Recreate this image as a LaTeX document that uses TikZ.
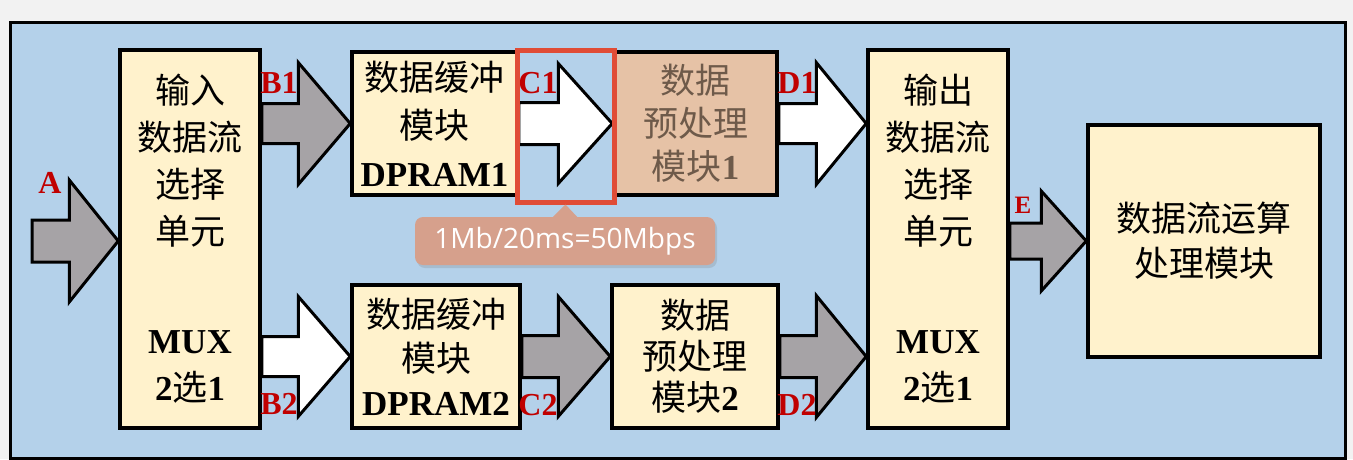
\documentclass[tikz,border=0pt]{standalone}
\usepackage{fontspec}
\setmainfont{Liberation Serif}
\newfontfamily\cjk{Noto Sans CJK SC}
\newfontfamily\notefont{Open Sans}
\usetikzlibrary{calc,shadows}

\definecolor{panelblue}{RGB}{180,209,234}
\definecolor{cream}{RGB}{255,242,204}
\definecolor{tanbox}{RGB}{230,194,166}
\definecolor{tantext}{RGB}{110,90,74}
\definecolor{arrowgray}{RGB}{166,163,166}
\definecolor{labelred}{RGB}{192,0,0}
\definecolor{notefill}{RGB}{214,160,140}
\definecolor{hlred}{RGB}{224,76,54}

\newcommand\zh[1]{{\cjk #1}}
% block arrow: fill, start, tip, head length, half shaft, half head
\newcommand\flowarrow[6]{%
  \filldraw[flowline, fill=#1] let \p1=(#2), \p2=(#3) in
    (\x1,\y2+#5) -- (\x2-#4,\y2+#5) -- (\x2-#4,\y2+#6) -- (\x2,\y2)
    -- (\x2-#4,\y2-#6) -- (\x2-#4,\y2-#5) -- (\x1,\y2-#5) -- cycle;}

\tikzset{
  block/.style={draw, line width=3.5pt, fill=cream, align=center, inner sep=0pt},
  blockfont/.style={font={\fontsize{35}{#1}\selectfont}},
  portlab/.style={text=labelred, inner sep=0pt, font={\fontsize{32}{32}\selectfont\bfseries}},
  flowline/.style={line width=3pt, line join=miter},
}

\begin{document}
\begin{tikzpicture}[x=1pt, y=-1pt]
  \useasboundingbox (0,0) rectangle (1353,459);
  \fill[black!5] (0,0) rectangle (1353,459);
  \draw[line width=3pt, fill=panelblue] (10,22) rectangle (1345,458);

  % blocks
  \node[block, blockfont=47, minimum width=140, minimum height=378] (inmux) at (190,239)
    {\zh{输入}\\\zh{数据流}\\\zh{选择}\\\zh{单元}\\[62pt]\textbf{MUX}\\\textbf{2}\zh{选}\textbf{1}};
  \node[block, blockfont=48, minimum width=165, minimum height=143] (dpram1) at (434.5,123.5)
    {\zh{数据缓冲}\\\zh{模块}\\\textbf{DPRAM1}};
  \node[block, blockfont=43, minimum width=163, minimum height=143, fill=tanbox, text=tantext] (pre1) at (695.5,123.5)
    {\zh{数据}\\\zh{预处理}\\\zh{模块}\textbf{1}};
  \node[block, blockfont=44, minimum width=168, minimum height=143] (dpram2) at (436,356.5)
    {\zh{数据缓冲}\\\zh{模块}\\\textbf{DPRAM2}};
  \node[block, blockfont=41, minimum width=166, minimum height=143] (pre2) at (695,356.5)
    {\zh{数据}\\\zh{预处理}\\\zh{模块}\textbf{2}};
  \node[block, blockfont=47, minimum width=140, minimum height=378] (outmux) at (938,239)
    {\zh{输出}\\\zh{数据流}\\\zh{选择}\\\zh{单元}\\[62pt]\textbf{MUX}\\\textbf{2}\zh{选}\textbf{1}};
  \node[block, blockfont=45, minimum width=232, minimum height=232] (final) at (1204,241)
    {\zh{数据流运算}\\\zh{处理模块}};

  % flow arrows
  \coordinate (ain) at (32,241);
  \flowarrow{arrowgray}{ain}{inmux.west |- ain}{49pt}{21pt}{61pt}
  \flowarrow{arrowgray}{inmux.east |- dpram1.west}{dpram1.west}{52pt}{20pt}{61pt}
  \flowarrow{white}{inmux.east |- dpram2.west}{dpram2.west}{52pt}{20pt}{60pt}
  \flowarrow{white}{dpram1.east}{pre1.west}{54pt}{21pt}{60pt}
  \flowarrow{arrowgray}{dpram2.east}{pre2.west}{52pt}{21pt}{60pt}
  \flowarrow{white}{pre1.east}{outmux.west |- pre1.east}{50pt}{20pt}{61pt}
  \flowarrow{arrowgray}{pre2.east}{outmux.west |- pre2.east}{50pt}{21pt}{61pt}
  \flowarrow{arrowgray}{outmux.east |- final.west}{final.west}{45pt}{18pt}{50pt}

  % port labels
  \node[portlab] (labA) at (50,183) {A};
  \node[portlab] (labB1) at (279,83) {B1};
  \node[portlab] (labB2) at (279,404) {B2};
  \node[portlab] (labC1) at (538,83) {C1};
  \node[portlab] (labC2) at (538,405) {C2};
  \node[portlab] (labD1) at (797,83) {D1};
  \node[portlab] (labD2) at (797,405) {D2};
  \node[portlab, font={\fontsize{25}{25}\selectfont\bfseries}] (labE) at (1023,205) {E};

  % highlight and note
  \node[draw=hlred, line width=5pt, inner sep=0pt, minimum width=97, minimum height=152] (hl) at (565.5,126) {};
  \node[fill=notefill, rounded corners=8pt, minimum width=300, minimum height=48, text=white,
    font={\notefont\fontsize{28}{28}\selectfont},
    drop shadow={opacity=0.25, shadow xshift=2pt, shadow yshift=-3pt}] (note) at (565,241) {1Mb/20ms=50Mbps};
  \fill[notefill] ($(note.north)+(-13,1)$) -- (hl.south) -- ($(note.north)+(13,1)$) -- cycle;
\end{tikzpicture}
\end{document}
